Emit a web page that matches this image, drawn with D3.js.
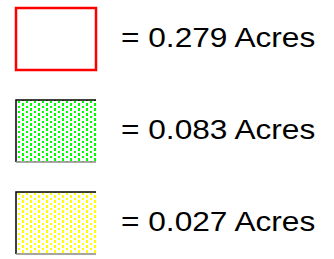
<!DOCTYPE html>
<html>
<head>
<meta charset="utf-8">
<script src="https://cdn.jsdelivr.net/npm/d3@7"></script>
<style>
  body { margin: 0; background: #fff; }
  svg { display: block; }
</style>
</head>
<body>
<div id="chart"></div>
<script>
const w = 334;
const h = 259;

// legend rows
const acres = [0.279, 0.083, 0.027];
const kinds = ["outline", "green", "yellow"];
const dotColors = { outline: null, green: "#00ff00", yellow: "#ffff00" };

const svg = d3.select("#chart")
  .append("svg")
  .attr("width", w)
  .attr("height", h);

const defs = svg.append("defs");
["green", "yellow"].forEach(k => {
  const p = defs.append("pattern")
    .attr("id", "dots-" + k)
    .attr("patternUnits", "userSpaceOnUse")
    .attr("x", 17).attr("y", 1)
    .attr("width", 8)
    .attr("height", 5);
  p.append("rect").attr("width", 8).attr("height", 5).attr("fill", "#fff");
  p.append("rect").attr("x", 1).attr("y", 0).attr("width", 2).attr("height", 2).attr("fill", dotColors[k]);
  p.append("rect").attr("x", 5).attr("y", 2).attr("width", 2).attr("height", 3).attr("fill", dotColors[k]);
});

const y = d3.scaleBand()
  .domain(d3.range(acres.length))
  .range([8, 8 + 92 * 3])
  .paddingInner(0);

const boxX = 16, boxW = 80, boxH = 62;

const rows = svg.selectAll("g.row")
  .data(acres)
  .enter()
  .append("g")
  .attr("class", "row")
  .attr("transform", (d, i) => "translate(0," + y(i) + ")");

rows.each(function(d, i) {
  const g = d3.select(this);
  const k = kinds[i];
  if (k === "outline") {
    g.append("rect")
      .attr("x", boxX).attr("y", 0)
      .attr("width", boxW).attr("height", boxH)
      .attr("fill", "#fff")
      .attr("stroke", "#ff0000")
      .attr("stroke-width", 2.5);
  } else {
    g.append("rect")
      .attr("x", boxX).attr("y", 0)
      .attr("width", boxW).attr("height", boxH)
      .attr("fill", "url(#dots-" + k + ")");
    // border: dark top/left, grey bottom
    g.append("path")
      .attr("d", "M" + boxX + "," + boxH + "V0H" + (boxX + boxW))
      .attr("fill", "none")
      .attr("stroke", "#000")
      .attr("stroke-width", 1.5);
    g.append("line")
      .attr("x1", boxX).attr("x2", boxX + boxW)
      .attr("y1", boxH).attr("y2", boxH)
      .attr("stroke", "#888")
      .attr("stroke-width", 1.5);
  }
  g.append("text")
    .attr("transform", "translate(121,39) scale(1.13,1)")
    .style("font-family", "Liberation Sans, Arial, sans-serif")
    .style("font-size", "28px")
    .attr("fill", "#000")
    .text("= " + d.toFixed(3) + " Acres");
});
</script>
</body>
</html>
